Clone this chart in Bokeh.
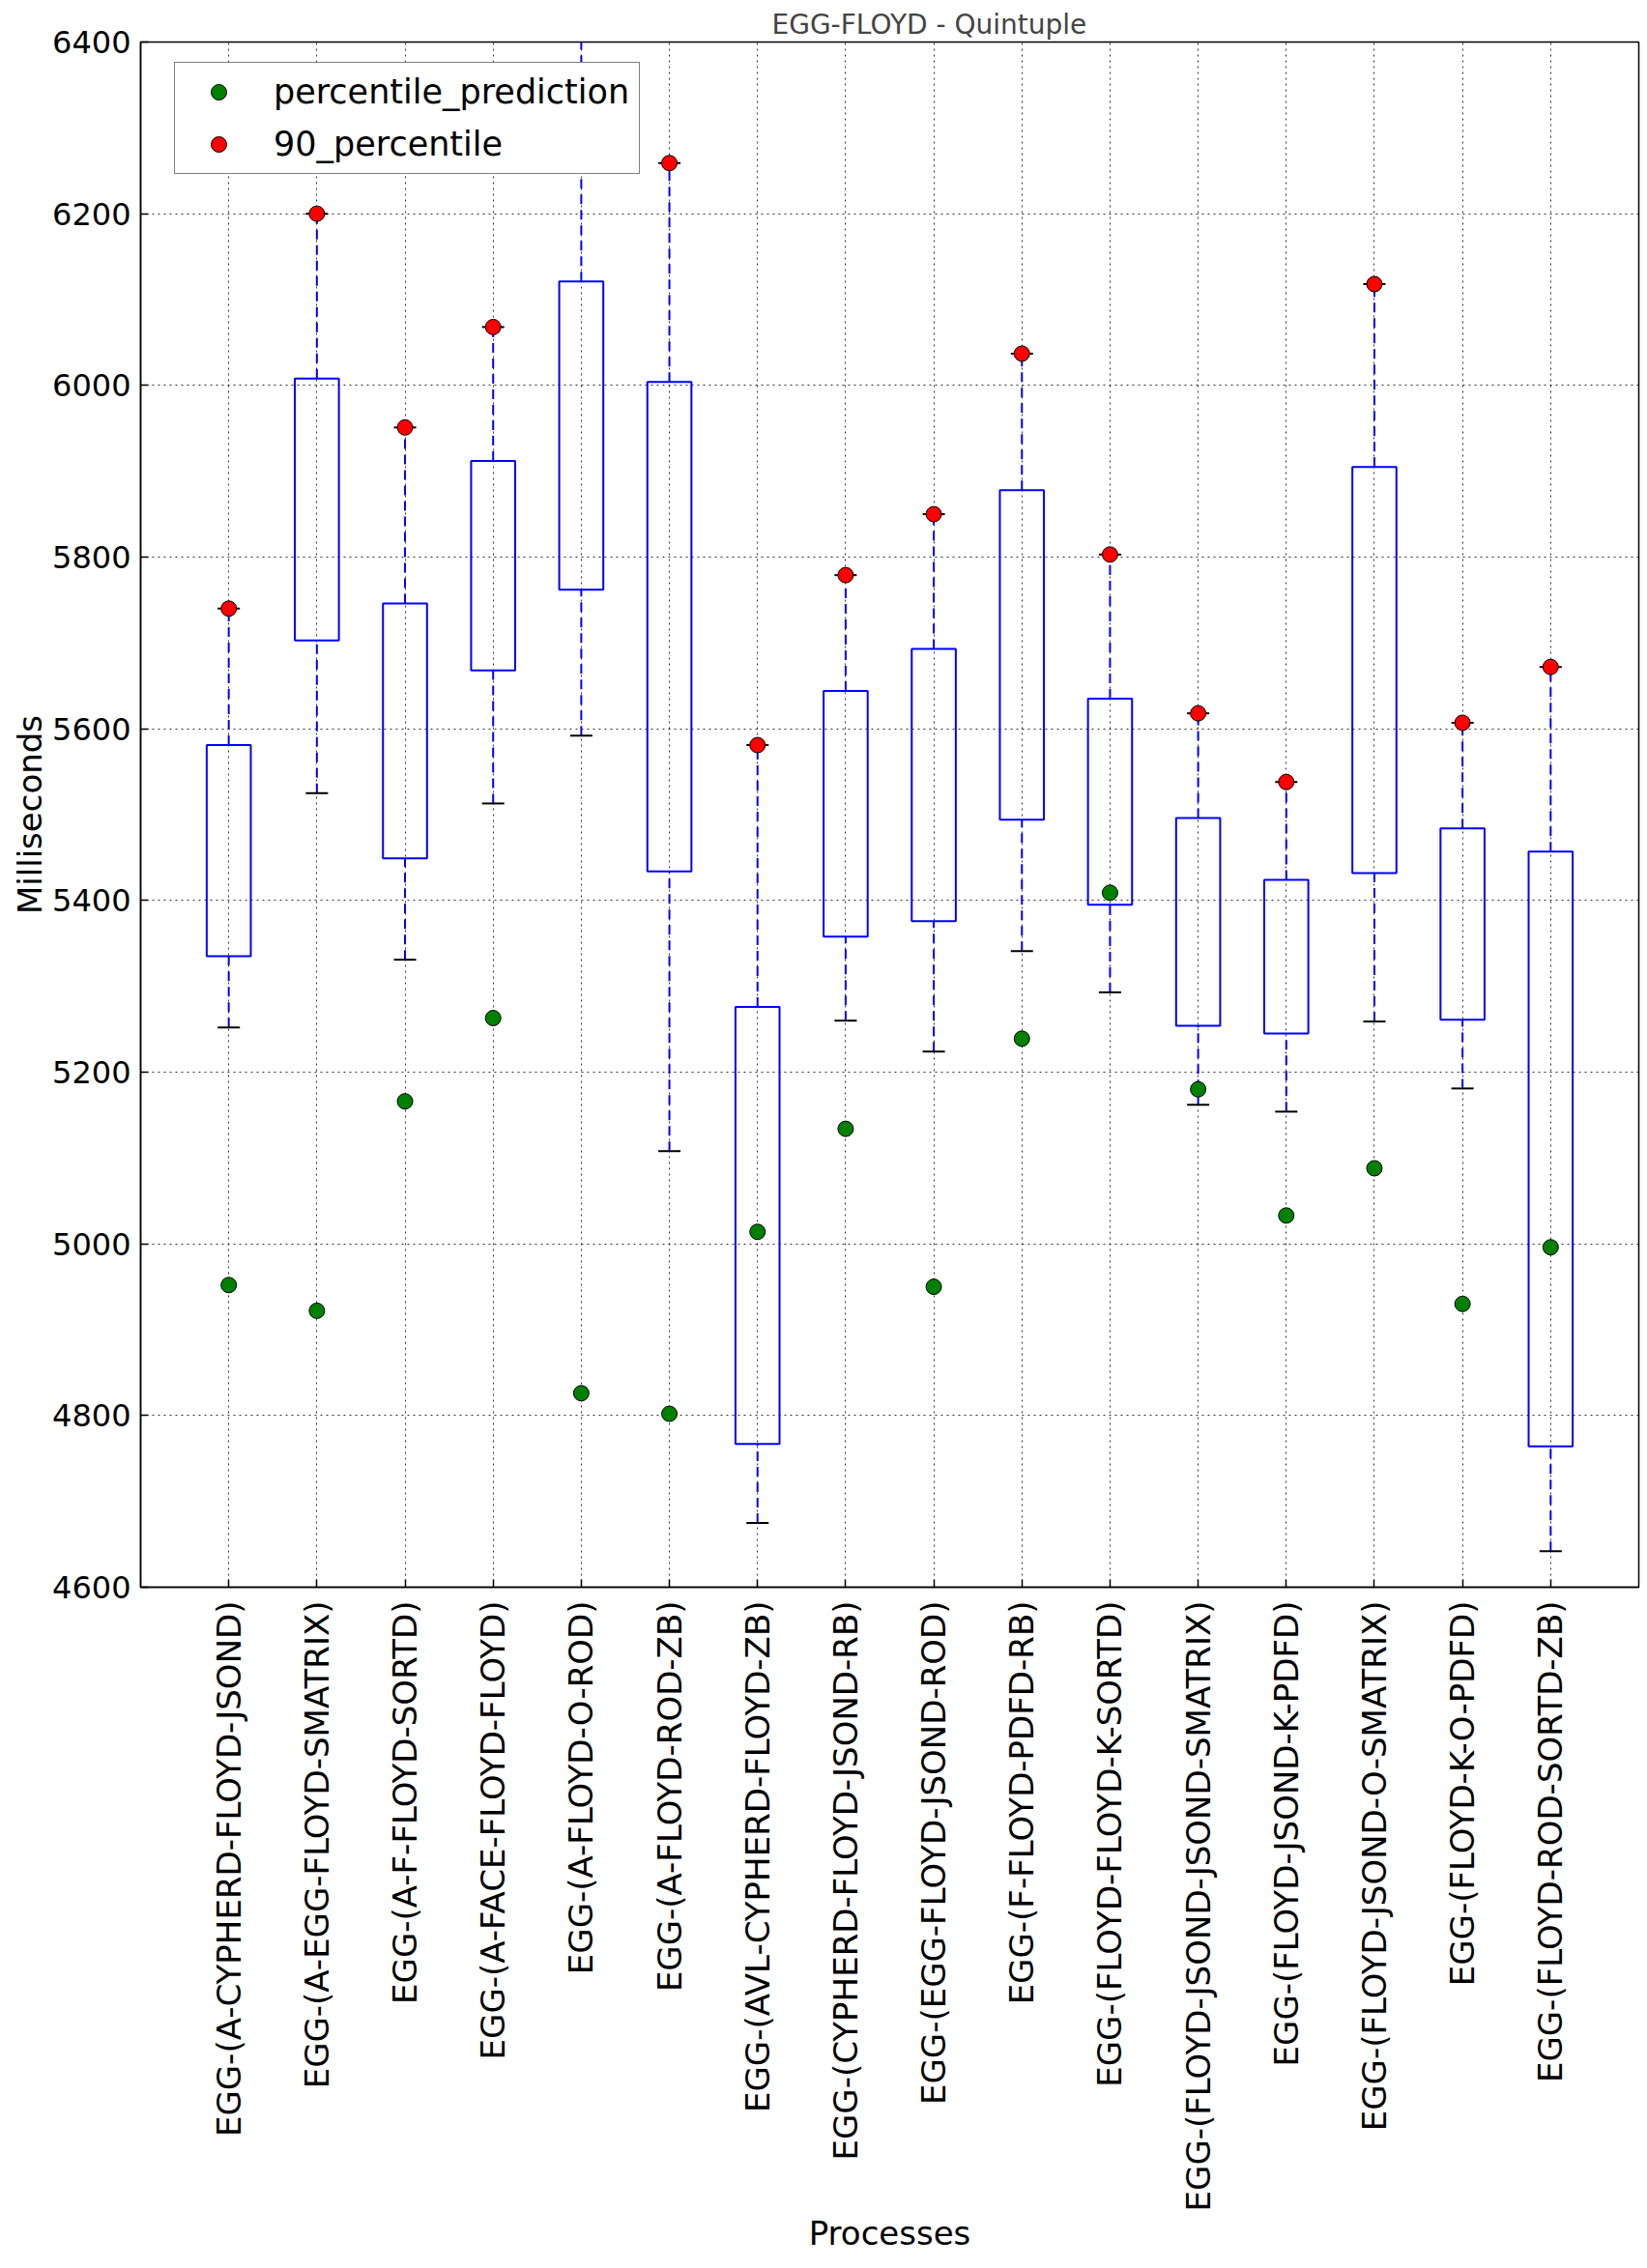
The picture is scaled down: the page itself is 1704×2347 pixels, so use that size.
import numpy as np
from bokeh.plotting import figure
from bokeh.models import (FactorRange, FixedTicker, Legend, LegendItem, ColumnDataSource, Range1d)
from bokeh.embed import file_html
from bokeh.resources import INLINE

processes = [
    "EGG-(A-CYPHERD-FLOYD-JSOND)", "EGG-(A-EGG-FLOYD-SMATRIX)", "EGG-(A-F-FLOYD-SORTD)",
    "EGG-(A-FACE-FLOYD-FLOYD)", "EGG-(A-FLOYD-O-ROD)", "EGG-(A-FLOYD-ROD-ZB)",
    "EGG-(AVL-CYPHERD-FLOYD-ZB)", "EGG-(CYPHERD-FLOYD-JSOND-RB)", "EGG-(EGG-FLOYD-JSOND-ROD)",
    "EGG-(F-FLOYD-PDFD-RB)", "EGG-(FLOYD-FLOYD-K-SORTD)", "EGG-(FLOYD-JSOND-JSOND-SMATRIX)",
    "EGG-(FLOYD-JSOND-K-PDFD)", "EGG-(FLOYD-JSOND-O-SMATRIX)", "EGG-(FLOYD-K-O-PDFD)",
    "EGG-(FLOYD-ROD-SORTD-ZB)",
]
whisker_low = [5252, 5525, 5331, 5513, 5592, 5108, 4675, 5260, 5224, 5341, 5293, 5162, 5154, 5259, 5181, 4642]
q1 = [5335, 5703, 5449, 5668, 5762, 5434, 4767, 5358, 5376, 5494, 5395, 5254, 5245, 5432, 5261, 4764]
median = [5443, 5850, 5602, 5792, 5952, 5720, 4994, 5503, 5513, 5667, 5500, 5353, 5322, 5689, 5375, 5133]
q3 = [5581, 6008, 5746, 5912, 6121, 6004, 5276, 5644, 5693, 5878, 5635, 5496, 5424, 5905, 5484, 5457]
percentile_90 = [5740, 6200, 5951, 6068, 6440, 6259, 5581, 5779, 5850, 6037, 5803, 5618, 5538, 6118, 5607, 5672]
percentile_prediction = [4952, 4922, 5166, 5263, 4826, 4802, 5014, 5134, 4950, 5239, 5409, 5180, 5033, 5088, 4930, 4996]
y_ticks = [4600, 4800, 5000, 5200, 5400, 5600, 5800, 6000, 6200, 6400]

FONT = "DejaVu Sans"

src = ColumnDataSource(dict(x=processes, low=whisker_low, q1=q1, med=median, q3=q3,
                            p90=percentile_90, pred=percentile_prediction))

p = figure(width=1700, height=2339, output_backend="svg", toolbar_location=None,
           x_range=FactorRange(factors=processes, range_padding=0.5, range_padding_units="absolute"),
           y_range=Range1d(4600, 6400),
           min_border_left=145, min_border_right=5, min_border_top=43, min_border_bottom=697,
           title="EGG-FLOYD - Quintuple")

p.title.align = "left"
p.title.offset = 653
p.title.text_font = FONT
p.title.text_font_size = "28px"
p.title.text_font_style = "normal"
p.title.standoff = 3

p.outline_line_color = "black"
p.outline_line_width = 1.5
p.background_fill_color = "white"
p.border_fill_color = "white"

# axes
p.yaxis.ticker = FixedTicker(ticks=y_ticks)
for ax in (p.xaxis[0], p.yaxis[0]):
    ax.major_label_text_font = FONT
    ax.major_label_text_color = "black"
    ax.axis_label_text_font = FONT
    ax.axis_label_text_font_size = "34px"
    ax.axis_label_text_font_style = "normal"
    ax.axis_label_text_color = "black"
    ax.axis_label_text_line_height = 0.9
    ax.major_tick_in = 8
    ax.major_tick_out = 0
    ax.major_tick_line_width = 1.5
    ax.minor_tick_line_color = None
    ax.axis_line_width = 1.5
    ax.axis_label_standoff = 0
p.xaxis.major_label_text_font_size = "34px"
p.yaxis.major_label_text_font_size = "32px"
p.xaxis.major_label_standoff = 14
p.yaxis.major_label_standoff = 10
p.xaxis.axis_label = "Processes"
p.yaxis.axis_label = "Milliseconds"
p.xaxis.major_label_orientation = np.pi / 2

# grid
for g in (p.xgrid[0], p.ygrid[0]):
    g.grid_line_color = "black"
    g.grid_line_dash = "2 4"
    g.grid_line_width = 1
    g.grid_line_alpha = 0.8

# whiskers
p.segment(x0="x", y0="q3", x1="x", y1="p90", source=src, line_color="blue",
          line_dash="10 6", line_width=2)
p.segment(x0="x", y0="low", x1="x", y1="q1", source=src, line_color="blue",
          line_dash="10 6", line_width=2)
# caps
p.scatter(x="x", y="p90", source=src, marker="dash", size=23, line_color="black", line_width=2)
p.scatter(x="x", y="low", source=src, marker="dash", size=23, line_color="black", line_width=2)
# boxes
p.vbar(x="x", width=0.5, bottom="q1", top="q3", source=src, fill_color=None,
       line_color="blue", line_width=2)
# medians
p.rect(x="x", y="med", width=0.5, height=0, source=src, fill_color=None,
       line_color="red", line_width=1.5)

r_pred = p.scatter(x="x", y="pred", source=src, marker="circle", size=16,
                   fill_color="green", line_color="black", line_width=1)
r_p90 = p.scatter(x="x", y="p90", source=src, marker="circle", size=16,
                  fill_color="red", line_color="black", line_width=1)

legend = Legend(items=[LegendItem(label="percentile_prediction", renderers=[r_pred]),
                       LegendItem(label="90_percentile", renderers=[r_p90])],
                location=(35, 1462))
legend.label_text_font = FONT
legend.label_text_font_size = "35px"
legend.label_text_color = "black"
legend.label_height = 40
legend.glyph_height = 40
legend.glyph_width = 70
legend.label_standoff = 22
legend.spacing = 14
legend.padding = 10
legend.margin = 0
legend.border_line_color = "black"
legend.border_line_width = 1.5
legend.background_fill_color = "white"
legend.background_fill_alpha = 1
p.add_layout(legend)

open("out.html", "w").write(file_html(p, INLINE))
